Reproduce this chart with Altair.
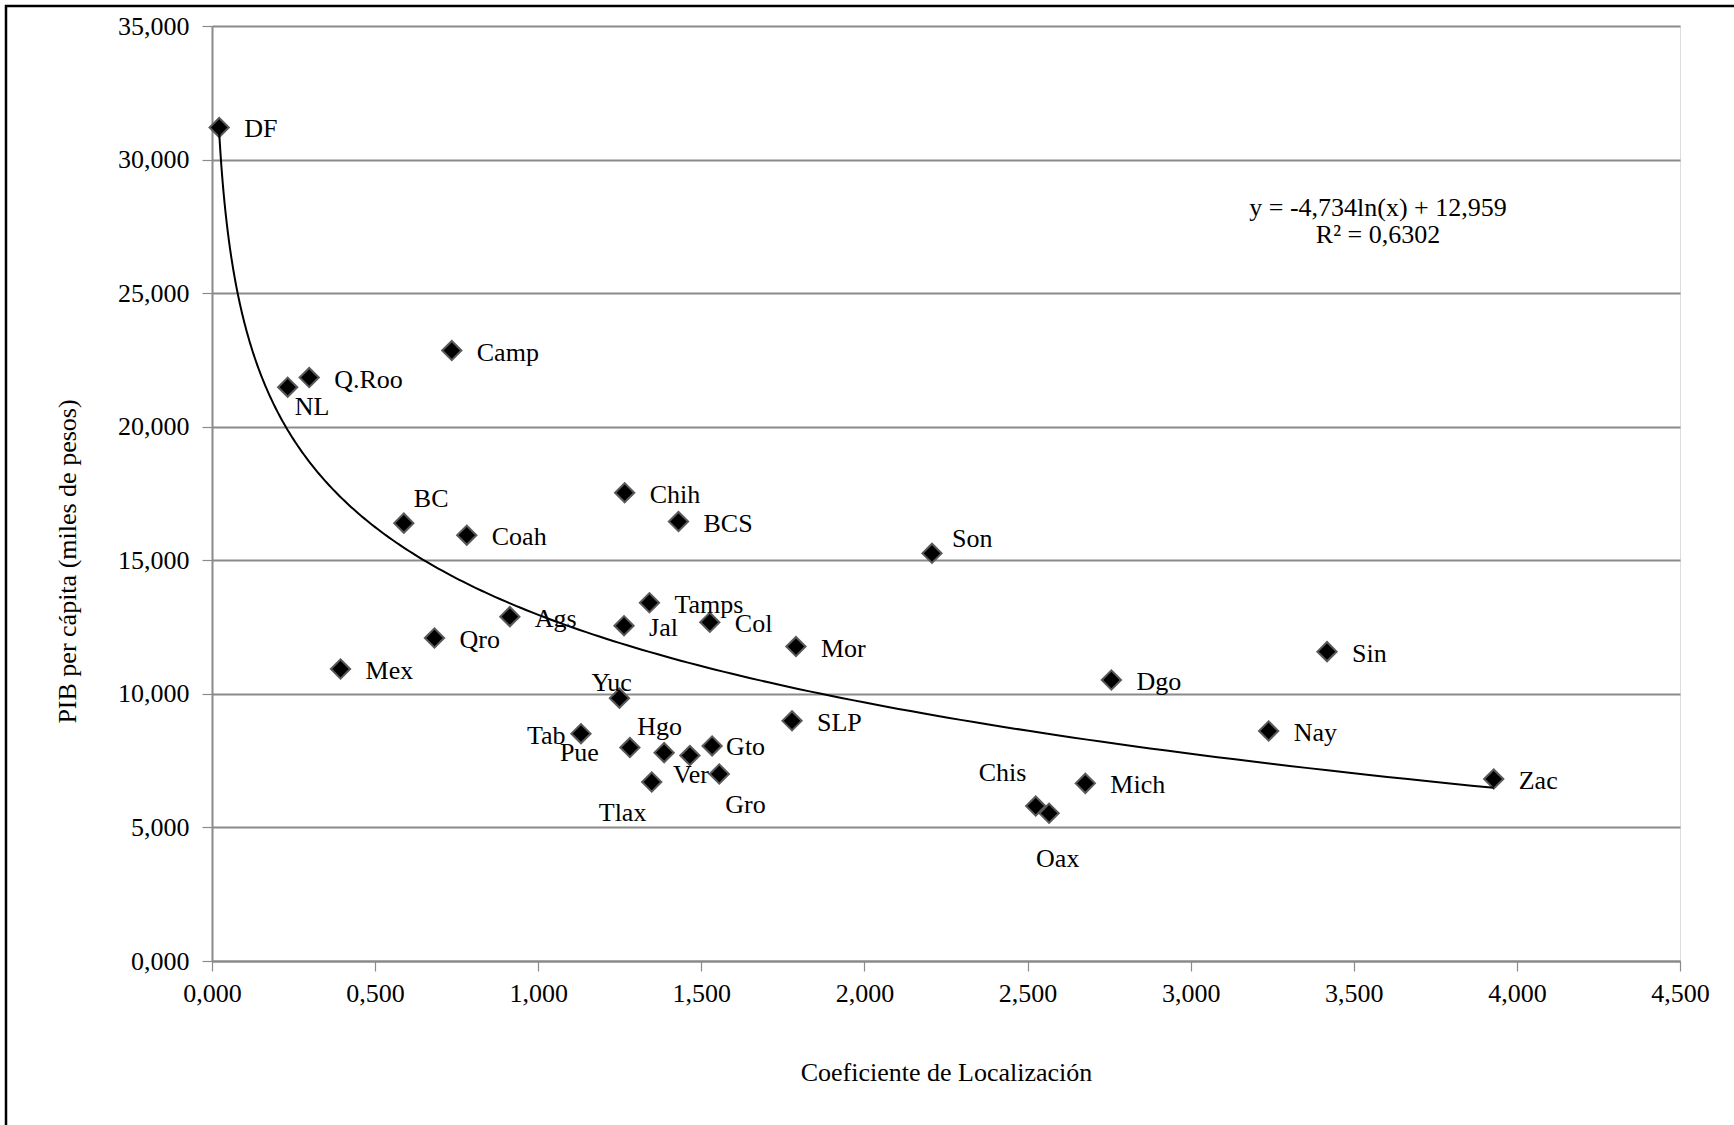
import altair as alt
import numpy as np
import pandas as pd

# Entidades federativas: coeficiente de localización vs PIB per cápita (miles de pesos)
estados = ["DF", "NL", "Q.Roo", "Camp", "BC", "Coah", "Chih", "BCS", "Son", "Tamps",
           "Ags", "Qro", "Jal", "Col", "Mor", "Mex", "Yuc", "Tab", "Pue", "Hgo",
           "Ver", "Gto", "Gro", "Tlax", "SLP", "Sin", "Dgo", "Nay", "Zac", "Mich",
           "Chis", "Oax"]
coef_loc = [0.022, 0.232, 0.298, 0.735, 0.588, 0.781, 1.265, 1.430, 2.207, 1.341,
            0.913, 0.682, 1.263, 1.526, 1.790, 0.394, 1.249, 1.131, 1.281, 1.386,
            1.465, 1.533, 1.555, 1.348, 1.778, 3.418, 2.757, 3.239, 3.929, 2.677,
            2.525, 2.566]
pib_pc = [31.20, 21.48, 21.84, 22.85, 16.39, 15.94, 17.53, 16.45, 15.26, 13.41,
          12.89, 12.09, 12.55, 12.68, 11.77, 10.93, 9.84, 8.51, 7.99, 7.80,
          7.69, 8.05, 7.00, 6.70, 8.99, 11.58, 10.52, 8.61, 6.81, 6.65,
          5.80, 5.53]

# Tendencia logarítmica reportada: y = a ln(x) + b
trend_a = -4.734
trend_b = 12.959
trend_r2 = 0.6302

x_ticks = [0, 0.5, 1.0, 1.5, 2.0, 2.5, 3.0, 3.5, 4.0, 4.5]
y_ticks = [0, 5, 10, 15, 20, 25, 30, 35]

# Desplazamiento (px) de cada etiqueta respecto a su marcador
default_offset = (25, 2)
label_offsets = {
    "DF": (25, 1), "NL": (7, 20), "BC": (10, -24), "Son": (20, -14),
    "Yuc": (-28, -15), "Tab": (-54, 2), "Pue": (-70, 5), "Hgo": (-27, -26),
    "Gto": (14, 1), "Ver": (-17, 19), "Gro": (6, 31), "Tlax": (-53, 31),
    "Chis": (-57, -33), "Oax": (-13, 46),
}

W, H = 1468, 935
FONT = "Liberation Serif"
GRAY = "#8a8a8a"

df = pd.DataFrame({"estado": estados, "coef": coef_loc, "pib": pib_pc})

xs = np.geomspace(min(coef_loc), max(coef_loc), 300)
trend = pd.DataFrame({"coef": xs, "pib": trend_a * np.log(xs) + trend_b})

fmt_expr = "replace(format(datum.value, '.3f'), '.', ',')"

x_enc = alt.X(
    "coef:Q",
    scale=alt.Scale(domain=[0, 4.5], nice=False, zero=False),
    axis=alt.Axis(
        values=x_ticks, labelExpr=fmt_expr, grid=False, labelFlush=False,
        domainColor=GRAY, domainWidth=2, tickColor=GRAY, tickWidth=1.2, tickSize=10,
        labelFont=FONT, labelFontSize=26, labelColor="black", labelPadding=9,
        title="Coeficiente de Localización", titleFont=FONT, titleFontSize=26,
        titleFontWeight="normal", titleColor="black", titleY=111, titleBaseline="middle",
    ),
)
y_enc = alt.Y(
    "pib:Q",
    scale=alt.Scale(domain=[0, 35], nice=False),
    axis=alt.Axis(
        values=y_ticks, labelExpr=fmt_expr, grid=True, gridColor=GRAY, gridWidth=2,
        labelFlush=False,
        domainColor=GRAY, domainWidth=2, tickColor=GRAY, tickWidth=1.2, tickSize=10,
        labelFont=FONT, labelFontSize=26, labelColor="black", labelPadding=13,
        title="PIB per cápita (miles de pesos)", titleFont=FONT, titleFontSize=26,
        titleFontWeight="normal", titleColor="black", titleX=-145, titleY=535,
        titleAlign="center", titleBaseline="middle", titleAngle=270,
    ),
)

base = alt.Chart(df)

curve = alt.Chart(trend).mark_line(color="black", strokeWidth=2).encode(
    x=alt.X("coef:Q"), y=alt.Y("pib:Q")
)

points = base.mark_point(
    shape="diamond", size=370, filled=True, fill="black", stroke="#5a5a5a",
    strokeWidth=2, opacity=1,
).encode(x=x_enc, y=y_enc)

# One text layer per distinct label placement
groups = {}
for e in estados:
    groups.setdefault(label_offsets.get(e, default_offset), []).append(e)

label_layers = []
for (ox, oy), names in groups.items():
    label_layers.append(
        base.transform_filter(alt.FieldOneOfPredicate(field="estado", oneOf=names))
        .mark_text(font=FONT, fontSize=26, color="black", align="left",
                   baseline="middle", dx=ox, dy=oy)
        .encode(x="coef:Q", y="pib:Q", text="estado:N")
    )

eq_line1 = "y = " + f"{trend_a:.3f}".replace(".", ",") + "ln(x) + " + f"{trend_b:.3f}".replace(".", ",")
eq_line2 = "R² = " + f"{trend_r2:.4f}".replace(".", ",")
eq_df = pd.DataFrame({"k": [0]})
eq_layers = [
    alt.Chart(eq_df).mark_text(
        font=FONT, fontSize=26, color="black", align="center", baseline="middle", text=t,
    ).encode(x=alt.value(1166), y=alt.value(yy))
    for t, yy in [(eq_line1, 182), (eq_line2, 209)]
]

frame = alt.Chart(pd.DataFrame({"k": [0]})).mark_rect(
    filled=False, stroke="black", strokeWidth=2.5,
).encode(
    x=alt.value(-206), x2=alt.value(1600), y=alt.value(-20), y2=alt.value(1200)
)

chart = alt.layer(points, curve, *label_layers, *eq_layers, frame).properties(
    width=W, height=H,
    autosize=alt.AutoSizeParams(type="none"),
    padding={"left": 212, "top": 26, "right": 54, "bottom": 164},
).configure_view(stroke=None).configure(background="white")

chart.save("out.html", embed_options={"renderer": "svg", "actions": False})
